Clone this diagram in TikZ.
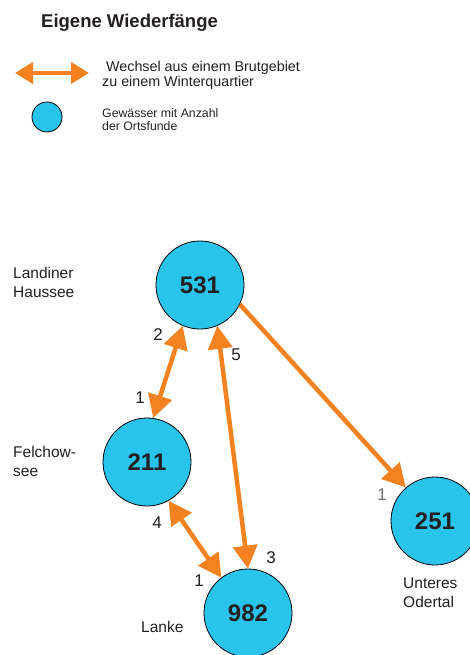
\documentclass[tikz,border=0pt]{standalone}
\usepackage{fontspec}
\setmainfont{Liberation Sans}
\usetikzlibrary{arrows.meta}
\definecolor{lake}{RGB}{41,196,236}
\definecolor{arr}{RGB}{245,130,32}
\definecolor{txt}{RGB}{35,31,32}
\definecolor{txtlight}{RGB}{110,110,112}
\begin{document}
\begin{tikzpicture}[x=1pt,y=-1pt,
  lakenode/.style={circle,draw=black,line width=0.8pt,fill=lake,minimum size=88pt,inner sep=0pt,
    font=\fontsize{24}{28}\selectfont\bfseries,text=txt},
  flow/.style={draw=arr,line width=4.5pt,{Triangle[length=23pt,width=24pt]}-{Triangle[length=23pt,width=24pt]}},
  flowone/.style={draw=arr,line width=4.5pt,-{Triangle[length=23pt,width=24pt]}},
  legarrow/.style={draw=arr,line width=4pt,{Triangle[length=18pt,width=21pt]}-{Triangle[length=18pt,width=21pt]}},
  cnt/.style={font=\fontsize{17}{20}\selectfont,text=txt,inner sep=0pt},
  place/.style={anchor=base west,align=left,inner sep=0pt,text=txt,font=\fontsize{15.5}{19}\selectfont},
  legtext/.style={anchor=base west,align=left,inner sep=0pt,text=txt},
]
\useasboundingbox (0,0) rectangle (470,655);
% title and legend
\node[anchor=base west,inner sep=0pt,text=txt,font=\fontsize{18.5}{22}\selectfont\bfseries] (title) at (41,28) {Eigene Wiederfänge};
\coordinate (la) at (15,73);
\coordinate (lb) at (89,73);
\draw[legarrow] (la) -- (lb);
\node[legtext,font=\fontsize{14.3}{15}\selectfont] (legt1) at (102,87) {\hspace*{4pt}Wechsel aus einem Brutgebiet\\zu einem Winterquartier};
\node[lakenode,minimum size=30pt] (legc) at (47,117) {};
\node[legtext,font=\fontsize{12.3}{12.7}\selectfont] (legt2) at (102,130.5) {Gewässer mit Anzahl\\der Ortsfunde};
% lakes
\node[lakenode] (c531) at (200,285) {531};
\node[lakenode] (c211) at (147,462) {211};
\node[lakenode] (c982) at (248,613) {982};
\node[lakenode] (c251) at (435,521) {251};
% place names
\node[place] (p531) at (13,297) {Landiner\\Haussee};
\node[place] (p211) at (13,476) {Felchow-\\see};
\node[place] (p982) at (141,632) {Lanke};
\node[place] (p251) at (403,607) {Unteres\\Odertal};
% connectors
\draw[flow] (c531.247) -- (c211.82);
\draw[flow] (c531.293) -- (c982.90);
\draw[flow] (c211.299) -- (c982.127);
\draw[flowone] (c531.334) -- (c251.131);
% counts
\node[cnt] (n2) at (158,335) {2};
\node[cnt] (n1a) at (140,398) {1};
\node[cnt] (n5) at (236,355) {5};
\node[cnt] (n4) at (157,523) {4};
\node[cnt] (n1b) at (199,581) {1};
\node[cnt] (n3) at (271,558) {3};
\node[cnt,text=txtlight] (n1c) at (382,495) {1};
\end{tikzpicture}
\end{document}
